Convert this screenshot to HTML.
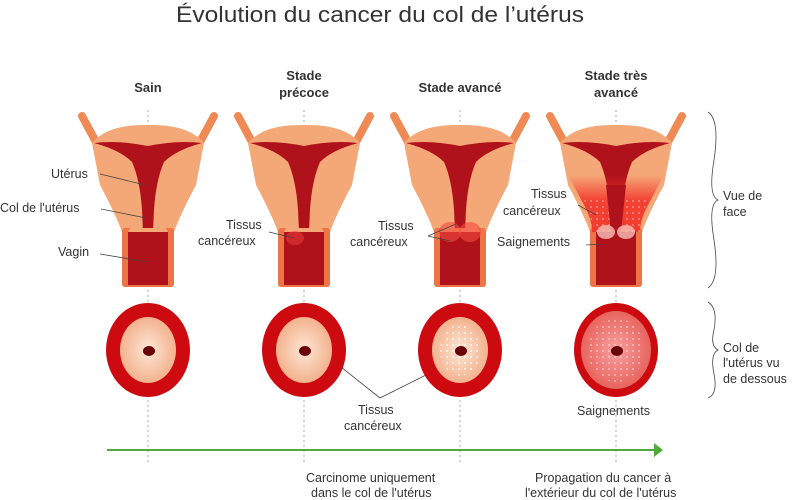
<!DOCTYPE html>
<html><head><meta charset="utf-8"><style>
html,body{margin:0;padding:0;background:#fff;}
svg{display:block;font-family:"Liberation Sans",sans-serif;}
</style></head><body>
<svg width="800" height="500" viewBox="0 0 800 500" xmlns="http://www.w3.org/2000/svg">
<defs>
<radialGradient id="cin" cx="50%" cy="50%" r="50%"><stop offset="0" stop-color="#fde7d6"/><stop offset="1" stop-color="#f3b28e"/></radialGradient>
<radialGradient id="cin4" cx="50%" cy="50%" r="50%"><stop offset="0" stop-color="#f7a0a0"/><stop offset="1" stop-color="#e8645e"/></radialGradient>
<linearGradient id="red4" x1="0" y1="0" x2="0" y2="1"><stop offset="0" stop-color="#f23028" stop-opacity="0"/><stop offset="0.45" stop-color="#f23028" stop-opacity="0.85"/><stop offset="1" stop-color="#f23028" stop-opacity="0.9"/></linearGradient>
<pattern id="dots" width="6" height="6" patternUnits="userSpaceOnUse"><circle cx="3" cy="3" r="1" fill="#fff" opacity="0.8"/></pattern>
<g id="ut">
  <path d="M-66,116 L-52,142 Q-47,148 -40,149" fill="none" stroke="#f08a55" stroke-width="8" stroke-linecap="round"/>
  <path d="M66,116 L52,142 Q47,148 40,149" fill="none" stroke="#f08a55" stroke-width="8" stroke-linecap="round"/>
  <path d="M-56,143 Q-40,124 0,125 Q40,124 56,143 L48,185 Q32,215 26,232 L-26,232 Q-32,215 -48,185 Z" fill="#f5a877"/>
  <rect x="-26" y="228" width="52" height="59" rx="3" fill="#ec7446"/>
  <rect x="-20" y="232" width="40" height="53" fill="#b0121b"/>
  <path d="M-54,143 Q-30,140 0,146 Q30,140 54,143 Q28,150 16,162 Q8,180 6,210 L5,232 L-5,232 L-6,210 Q-8,180 -16,162 Q-28,150 -54,143Z" fill="#b0121b"/>
  <path d="M-20,232 Q-14,220 -5,228 L5,228 Q14,220 20,232 Z" fill="#f5a877"/>
</g>
</defs>
<text x="176" y="22" font-size="22" fill="#333" textLength="408" lengthAdjust="spacingAndGlyphs">Évolution du cancer du col de l’utérus</text>
<g font-size="13" font-weight="bold" fill="#333" text-anchor="middle">
<text x="148" y="92">Sain</text>
<text x="304" y="80">Stade</text><text x="304" y="97">précoce</text>
<text x="460" y="92">Stade avancé</text>
<text x="616" y="80">Stade très</text><text x="616" y="97">avancé</text>
</g>
<g stroke="#aaa" stroke-width="1" stroke-dasharray="2,3">
<line x1="148" y1="110" x2="148" y2="462"/><line x1="304" y1="110" x2="304" y2="462"/>
<line x1="460" y1="110" x2="460" y2="462"/><line x1="616" y1="110" x2="616" y2="462"/>
</g>
<use href="#ut" x="148"/><use href="#ut" x="304"/><use href="#ut" x="460"/><use href="#ut" x="616"/>
<ellipse cx="295" cy="238" rx="9" ry="7" fill="#f04040" opacity="0.5"/>
<ellipse cx="450" cy="232" rx="11" ry="10" fill="#f54a40" opacity="0.6"/><ellipse cx="470" cy="232" rx="11" ry="10" fill="#f54a40" opacity="0.6"/>
<path d="M568,175 L664,175 L648,205 Q640,220 640,232 L592,232 Q592,220 584,205Z" fill="url(#red4)"/>
<path d="M584,200 L648,200 Q640,220 640,232 L592,232 Q592,220 584,200Z" fill="url(#dots)" opacity="0.5"/>
<path d="M606,185 L626,185 L621,232 L611,232Z" fill="#b0121b"/>
<ellipse cx="606" cy="232" rx="9" ry="7" fill="#f8c0b8" opacity="0.8"/><ellipse cx="626" cy="232" rx="9" ry="7" fill="#f8c0b8" opacity="0.8"/>
<g font-size="12.5" fill="#333">
<text x="51" y="178">Utérus</text><text x="0" y="212">Col de l'utérus</text><text x="58" y="256">Vagin</text>
<text x="226" y="229">Tissus</text><text x="198" y="245">cancéreux</text>
<text x="378" y="230">Tissus</text><text x="350" y="246">cancéreux</text>
<text x="531" y="198">Tissus</text><text x="503" y="215">cancéreux</text>
<text x="497" y="246">Saignements</text>
<text x="723" y="200">Vue de</text><text x="723" y="216">face</text>
<text x="723" y="352">Col de</text><text x="723" y="367">l'utérus vu</text><text x="723" y="383">de dessous</text>
<text x="358" y="414">Tissus</text><text x="344" y="430">cancéreux</text>
<text x="577" y="415">Saignements</text>
<text x="306" y="482">Carcinome uniquement</text><text x="311" y="497">dans le col de l'utérus</text>
<text x="535" y="482">Propagation du cancer à</text><text x="525" y="497">l'extérieur du col de l'utérus</text>
</g>
<g stroke="#444" stroke-width="0.8" fill="none">
<line x1="100" y1="174" x2="145" y2="185"/><line x1="101" y1="209" x2="146" y2="218"/><line x1="100" y1="254" x2="148" y2="262"/>
<line x1="269" y1="232" x2="294" y2="238"/>
<line x1="428" y1="236" x2="456" y2="224"/><line x1="428" y1="236" x2="450" y2="241"/>
<line x1="578" y1="205" x2="596" y2="215"/><line x1="586" y1="245" x2="602" y2="244"/>
<line x1="380" y1="398" x2="312" y2="344"/><line x1="380" y1="398" x2="444" y2="366"/>
<path d="M708,112 Q720,120 714,160 Q708,196 718,200 Q708,204 714,240 Q720,280 708,288"/>
<path d="M708,302 Q718,308 714,330 Q710,346 718,350 Q710,354 714,374 Q718,394 708,398"/>
</g>
<g>
<ellipse cx="148" cy="350" rx="42" ry="47" fill="#cc0a10"/><ellipse cx="304" cy="350" rx="42" ry="47" fill="#cc0a10"/>
<ellipse cx="460" cy="350" rx="42" ry="47" fill="#cc0a10"/><ellipse cx="616" cy="350" rx="42" ry="47" fill="#cc0a10"/>
<ellipse cx="148" cy="350" rx="28" ry="33" fill="url(#cin)"/>
<ellipse cx="304" cy="350" rx="28" ry="33" fill="url(#cin)"/>
<ellipse cx="460" cy="350" rx="28" ry="33" fill="url(#cin)"/>
<ellipse cx="460" cy="350" rx="20" ry="26" fill="url(#dots)"/>
<ellipse cx="616" cy="350" rx="35" ry="39" fill="url(#cin4)"/>
<ellipse cx="616" cy="350" rx="28" ry="32" fill="url(#dots)" opacity="0.6"/>
<ellipse cx="149" cy="351" rx="6" ry="5" fill="#6a0008"/><ellipse cx="305" cy="351" rx="6" ry="5" fill="#6a0008"/>
<ellipse cx="461" cy="351" rx="6" ry="5" fill="#6a0008"/><ellipse cx="617" cy="351" rx="6" ry="5" fill="#6a0008"/>
</g>
<line x1="107" y1="450" x2="655" y2="450" stroke="#52a83a" stroke-width="2"/>
<path d="M654,443 L663,450 L654,457Z" fill="#52a83a"/>
</svg>
</body></html>
